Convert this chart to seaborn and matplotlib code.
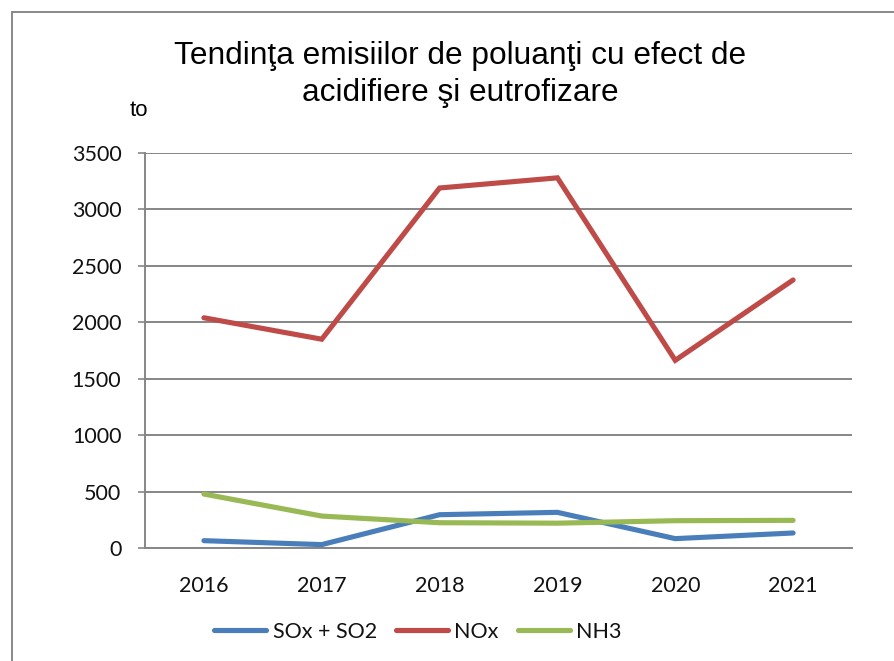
import matplotlib
matplotlib.use("Agg")
import matplotlib.pyplot as plt
import seaborn as sns
import pandas as pd
from matplotlib.patches import Rectangle

years = ["2016", "2017", "2018", "2019", "2020", "2021"]
sox = [65, 30, 295, 316, 83, 133]
nox = [2040, 1850, 3190, 3280, 1663, 2375]
nh3 = [478, 283, 224, 220, 242, 245]
series_names = ["SOx + SO2", "NOx", "NH3"]
yticks = [0, 500, 1000, 1500, 2000, 2500, 3000, 3500]

df = pd.DataFrame({
    "year": years * 3,
    "value": sox + nox + nh3,
    "series": [series_names[0]] * 6 + [series_names[1]] * 6 + [series_names[2]] * 6,
})
df["x"] = df["year"].map({y: i for i, y in enumerate(years)})

sns.set_theme(style="white")
plt.rcParams['font.family'] = ['Lato', 'DejaVu Sans']
plt.rcParams['text.color'] = 'black'

W, H = 894, 661
fig = plt.figure(figsize=(W / 100, H / 100), dpi=100)
ax = fig.add_axes([145 / W, 1 - 548 / H, (852 - 145) / W, (548 - 153) / H])

palette = {"SOx + SO2": "#4A7EBB", "NOx": "#BE4B48", "NH3": "#98B954"}
sns.lineplot(data=df, x="x", y="value", hue="series", palette=palette,
             linewidth=3.7, ax=ax, legend=True, sort=False)
for ln in ax.lines:
    ln.set_solid_capstyle("round")
    ln.set_solid_joinstyle("miter")

TICK_FS = 15.5
ax.set_xlim(-0.5, 5.5)
ax.set_ylim(0, 3500)
ax.set_yticks(yticks)
ax.set_yticklabels([str(v) for v in yticks], fontsize=TICK_FS, color="#111111")
ax.set_xticks(range(len(years)))
ax.set_xticklabels(years, fontsize=TICK_FS, color="#111111")
ax.tick_params(axis="x", length=0, pad=20)
ax.tick_params(axis="y", length=5, width=1.2, color="#868686", left=True, pad=12)
ax.set_xlabel("")
ax.set_ylabel("")
ax.grid(axis="y", color="#868686", linewidth=1.4)
ax.set_axisbelow(True)
for s in ["top", "right"]:
    ax.spines[s].set_visible(False)
for s in ["left", "bottom"]:
    ax.spines[s].set_color("#868686")
    ax.spines[s].set_linewidth(1.4)

leg = ax.legend(loc="center", bbox_to_anchor=(418 / W, 1 - 632 / H),
                bbox_transform=fig.transFigure, ncol=3, frameon=False,
                fontsize=TICK_FS, handlelength=2.4, columnspacing=0.9,
                handletextpad=0.3)
for t in leg.get_texts():
    t.set_color("#111111")
for h in leg.get_lines():
    h.set_linewidth(3.7)
    h.set_solid_capstyle("round")

title_font = ["Liberation Sans", "DejaVu Sans"]
fig.text(460 / W, 1 - 56 / H, "Tendinţa emisiilor de poluanţi cu efect de",
         ha="center", va="center", fontsize=22.8, family=title_font, color="black")
fig.text(460 / W, 1 - 93 / H, "acidifiere şi eutrofizare",
         ha="center", va="center", fontsize=22.8, family=title_font, color="black")
fig.text(139 / W, 1 - 110 / H, "to", ha="center", va="center", fontsize=16,
         family=title_font, color="black")

fig.patches.append(Rectangle((12 / W, -0.2), 1.2, (1 - 12 / H) + 0.2,
                             transform=fig.transFigure, fill=False,
                             edgecolor="#888888", linewidth=1.4))

fig.savefig("out.png", dpi=100)
